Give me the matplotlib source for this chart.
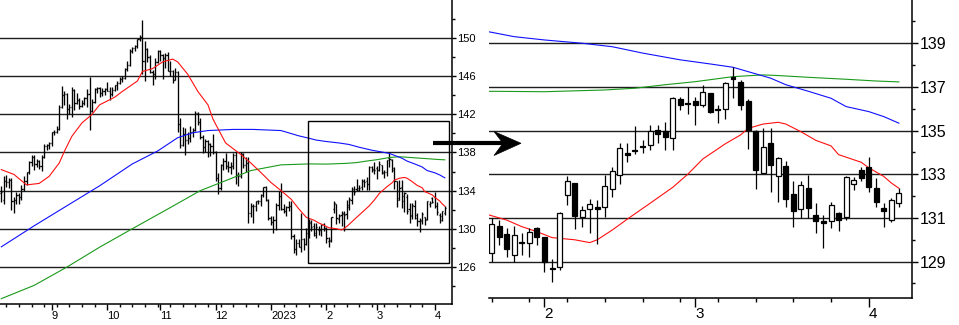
import numpy as np
import pandas as pd
import matplotlib
matplotlib.use('Agg')
import matplotlib.pyplot as plt
from matplotlib.collections import LineCollection
from matplotlib.patches import Rectangle, Polygon
from matplotlib.lines import Line2D

plt.rcParams['font.family'] = ['Liberation Sans', 'DejaVu Sans']

# trading days shown (weekdays), Aug 4 2022 .. Apr 7 2023
dates = pd.bdate_range('2022-08-04', '2023-04-07')

opens = [133.8, 133.0, 135.0, 134.9, 135.1, 132.9, 133.0, 133.5, 133.3, 134.2,
         135.0, 135.9, 137.0, 137.5, 136.8, 137.1, 136.6, 137.5, 138.7, 138.8,
         139.0, 140.2, 140.2, 140.5, 142.8, 144.0, 144.1, 142.6, 142.8, 144.6,
         143.2, 143.5, 142.9, 143.2, 143.7, 144.1, 142.4, 143.3, 144.7, 144.8,
         144.2, 144.4, 144.7, 144.5, 144.1, 144.6, 145.1, 145.3, 145.7, 145.8,
         146.8, 147.2, 148.7, 149.0, 149.2, 149.9, 150.1, 147.6, 148.9, 148.0,
         146.4, 146.2, 147.5, 148.7, 148.2, 147.9, 148.2, 146.6, 146.6, 145.6,
         146.4, 141.0, 138.8, 139.9, 139.3, 139.5, 140.2, 140.4, 142.1, 141.2,
         139.6, 138.6, 139.2, 138.9, 138.7, 138.1, 135.3, 134.3, 136.7, 137.1,
         136.6, 136.5, 136.6, 137.7, 135.6, 135.5, 137.8, 136.7, 136.9, 131.7,
         132.4, 132.4, 132.9, 132.9, 133.5, 134.4, 133.0, 131.1, 130.7, 130.9,
         132.5, 133.4, 132.1, 131.9, 132.3, 132.4, 129.2, 127.9, 128.5, 128.1,
         128.9, 128.4,
         129.41, 130.65, 130.27, 129.31, 129.9, 129.87, 130.53, 130.11, 128.72, 128.77,
         132.05, 132.62, 131.03, 131.4, 131.52, 131.52, 132.31, 132.97, 133.99, 134.12,
         134.3, 134.34, 135.03, 135.0, 134.65, 136.43, 136.28, 136.37, 136.17, 136.71,
         135.99, 135.98, 137.44, 137.24, 136.37, 134.98, 133.05, 134.42, 132.92, 133.38,
         132.1, 131.41, 132.39, 131.14, 130.86, 130.88, 131.21, 131.03, 132.56, 133.2,
         133.35, 132.36, 131.47, 130.91, 131.67]

highs = [134.5, 135.5, 135.6, 135.3, 135.3, 133.3, 133.9, 133.8, 134.6, 135.5,
         136.0, 137.1, 137.7, 137.7, 137.3, 137.2, 137.7, 138.9, 138.9, 139.1,
         140.2, 140.4, 140.8, 143.0, 145.0, 144.5, 144.2, 143.1, 144.9, 144.7,
         144.2, 143.7, 143.5, 143.8, 144.7, 145.9, 143.6, 144.8, 144.9, 144.9,
         144.8, 144.8, 145.4, 144.9, 144.9, 145.1, 145.5, 145.9, 146.0, 146.9,
         147.6, 148.9, 149.1, 149.3, 149.9, 150.3, 151.9, 149.7, 149.0, 148.2,
         146.7, 147.9, 148.8, 148.8, 148.3, 148.4, 148.5, 147.6, 146.7, 146.9,
         146.6, 141.6, 140.7, 140.6, 140.2, 140.8, 140.6, 142.3, 142.2, 141.6,
         139.8, 139.4, 139.3, 139.0, 139.9, 138.2, 135.8, 136.8, 137.4, 137.9,
         137.1, 137.0, 137.9, 138.1, 135.9, 138.0, 137.9, 137.5, 137.5, 132.7,
         132.6, 132.9, 133.0, 133.6, 134.4, 134.5, 133.1, 131.3, 131.3, 132.7,
         134.0, 134.8, 132.6, 132.4, 132.9, 132.9, 129.4, 128.9, 128.9, 131.6,
         129.0, 130.1,
         130.99, 130.91, 130.56, 130.65, 130.3, 130.53, 130.6, 130.14, 129.1, 131.25,
         132.92, 132.62, 131.56, 131.85, 131.82, 132.97, 133.35, 134.42, 134.45, 135.2,
         134.57, 135.26, 135.26, 135.41, 136.56, 136.56, 136.98, 136.56, 137.09, 136.71,
         136.17, 137.24, 137.93, 137.32, 136.43, 135.03, 135.11, 135.11, 133.81, 133.63,
         132.67, 132.67, 132.97, 131.67, 131.14, 131.75, 131.25, 132.92, 132.86, 133.35,
         133.81, 132.82, 131.67, 131.9, 132.36]

lows = [132.8, 132.6, 134.4, 134.3, 132.0, 131.7, 132.6, 132.6, 133.0, 134.0,
        134.6, 135.7, 136.6, 136.2, 136.5, 136.3, 136.1, 137.4, 138.3, 138.4,
        138.7, 139.8, 140.0, 140.4, 142.7, 143.0, 141.5, 142.0, 141.7, 142.5,
        143.1, 142.6, 142.8, 143.0, 142.8, 140.4, 142.2, 143.2, 144.2, 143.8,
        143.9, 144.0, 144.5, 143.5, 143.9, 144.4, 144.6, 145.2, 145.4, 145.7,
        146.5, 147.1, 148.4, 148.6, 149.0, 149.7, 146.2, 145.5, 147.5, 146.3,
        145.1, 145.7, 147.4, 147.6, 145.7, 146.9, 146.5, 146.0, 145.3, 145.6,
        140.2, 138.5, 138.7, 137.7, 138.9, 139.1, 139.6, 140.3, 140.9, 139.4,
        137.9, 138.0, 137.5, 137.6, 137.8, 135.0, 133.6, 134.1, 136.2, 136.3,
        136.0, 135.7, 136.3, 134.7, 134.5, 135.3, 136.4, 136.0, 130.6, 131.2,
        130.6, 131.9, 132.6, 132.4, 133.3, 132.9, 130.9, 130.4, 129.5, 129.9,
        132.0, 132.0, 131.6, 131.3, 131.9, 128.9, 127.5, 127.2, 128.1, 127.6,
        127.8, 128.3,
        129.0, 129.76, 129.23, 129.0, 129.31, 129.2, 129.76, 128.54, 128.08, 128.6,
        131.6, 130.5, 130.6, 130.3, 129.81, 131.06, 131.98, 132.56, 133.55, 133.95,
        133.96, 134.11, 134.42, 134.11, 134.11, 135.95, 135.76, 135.26, 136.07, 135.79,
        135.36, 135.52, 136.48, 135.95, 134.15, 132.31, 133.05, 132.21, 131.75, 131.52,
        130.57, 130.99, 130.99, 130.3, 129.61, 130.53, 130.42, 130.91, 132.28, 132.7,
        132.21, 131.49, 130.6, 130.83, 131.49]

closes = [133.9, 135.0, 134.9, 135.1, 132.9, 133.0, 133.5, 133.3, 134.2, 135.0,
          135.9, 137.0, 137.5, 136.8, 137.1, 136.6, 137.5, 138.7, 138.8, 139.0,
          140.2, 140.2, 140.5, 142.8, 144.0, 144.1, 142.6, 142.8, 144.6, 143.2,
          143.5, 142.9, 143.2, 143.7, 144.1, 142.4, 143.3, 144.7, 144.8, 144.2,
          144.4, 144.7, 144.5, 144.1, 144.6, 145.1, 145.3, 145.7, 145.8, 146.8,
          147.2, 148.7, 149.0, 149.2, 149.9, 150.1, 147.6, 148.9, 148.0, 146.4,
          146.2, 147.5, 148.7, 148.2, 147.9, 148.2, 146.6, 146.6, 145.6, 146.4,
          141.0, 138.8, 139.9, 139.3, 139.5, 140.2, 140.4, 142.1, 141.2, 139.6,
          138.6, 139.2, 138.9, 138.7, 138.1, 135.3, 134.3, 136.7, 137.1, 136.6,
          136.5, 136.6, 137.7, 135.6, 135.5, 137.8, 136.7, 136.9, 131.7, 132.4,
          132.4, 132.9, 132.9, 133.5, 134.4, 133.0, 131.1, 130.7, 130.9, 132.5,
          133.4, 132.1, 131.9, 132.3, 132.4, 129.2, 127.9, 128.5, 128.1, 128.9,
          128.4, 129.6,
          130.71, 130.14, 129.57, 130.22, 129.86, 130.37, 130.11, 129.0, 128.68, 131.21,
          132.67, 131.09, 131.37, 131.62, 131.41, 132.47, 133.15, 134.19, 133.9, 134.08,
          134.25, 135.0, 134.85, 134.7, 136.48, 136.17, 136.2, 136.17, 136.78, 135.87,
          135.92, 137.17, 137.35, 136.17, 135.03, 133.2, 134.27, 133.43, 133.73, 131.86,
          131.34, 132.51, 131.44, 130.86, 130.76, 131.57, 130.91, 132.86, 132.74, 132.82,
          132.4, 131.72, 131.34, 131.83, 132.16]

# moving averages, read at bar numbers
red_idx = [0, 5, 10, 15, 19, 23, 25, 28, 32, 36, 39, 45, 48, 54, 56, 60, 64, 68, 70, 74,
           78, 82, 84, 87, 89, 95, 99, 103, 107, 111, 115, 118, 121, 124, 126, 128, 130,
           133, 135, 136, 138, 140, 143, 146, 148, 150, 153, 155, 156, 158, 160, 161, 163,
           165, 167, 168, 171, 172, 174, 175, 176]
red_val = [136.2, 135.7, 134.6, 134.75, 135.5, 136.9, 138.1, 139.7, 141.1, 142.0, 143.0,
           143.8, 144.4, 145.5, 146.5, 146.8, 147.5, 147.8, 147.5, 146.2, 144.4, 143.0,
           141.5, 140.0, 139.0, 137.8, 136.9, 135.9, 134.85, 134.0, 133.1, 132.1, 131.2,
           130.9, 130.6, 130.37, 130.1, 130.0, 129.87, 130.0, 130.45, 130.95, 131.67,
           132.4, 133.0, 133.7, 134.4, 134.8, 135.1, 135.3, 135.38, 135.3, 134.95,
           134.55, 134.3, 133.9, 133.55, 133.3, 132.9, 132.6, 132.36]
blue_idx = [0, 13, 26, 39, 52, 62, 70, 76, 82, 92, 100, 111, 118, 122, 125, 129, 134, 138,
            142, 147, 151, 154, 156, 159, 161, 164, 167, 169, 172, 174, 176]
blue_val = [128.1, 130.3, 132.4, 134.5, 136.8, 138.15, 139.55, 140.07, 140.3, 140.42,
            140.42, 140.3, 139.75, 139.5, 139.3, 139.15, 139.0, 138.84, 138.55, 138.24,
            138.05, 137.9, 137.7, 137.4, 137.1, 136.8, 136.48, 136.1, 135.87, 135.64, 135.34]
green_idx = [0, 13, 26, 39, 52, 66, 79, 91, 99, 111, 122, 129, 137, 141, 145, 149, 154,
             158, 160, 164, 169, 173, 176]
green_val = [122.66, 124.05, 125.97, 128.06, 130.0, 132.06, 134.0, 135.25, 136.1, 136.7,
             136.8, 136.78, 136.86, 136.94, 137.1, 137.24, 137.47, 137.55, 137.52, 137.44,
             137.35, 137.27, 137.23]

o = np.array(opens); h = np.array(highs); l = np.array(lows); c = np.array(closes)
x = np.arange(len(dates))

W, H = 959, 325
fig = plt.figure(figsize=(W / 100, H / 100), dpi=100)
ax1 = fig.add_axes([0, 1 - 304 / H, 452 / W, 304 / H])
ax2 = fig.add_axes([489 / W, 1 - 298.3 / H, (911.7 - 489) / W, 298.3 / H])

# month ticks (first trading day) and weekly ticks (Mondays)
month_pos = [i for i in range(1, len(dates)) if dates[i].month != dates[i - 1].month]
month_lab = [str(dates[i].year) if dates[i].month == 1 else str(dates[i].month) for i in month_pos]
week_pos = [i for i in range(len(dates)) if dates[i].weekday() == 0 and i not in month_pos]

for ax in (ax1, ax2):
    for s in ('top', 'left'):
        ax.spines[s].set_visible(False)
    for s in ('right', 'bottom'):
        ax.spines[s].set_linewidth(1.1)
        ax.spines[s].set_color('black')
    ax.yaxis.tick_right()
    ax.set_xticks(month_pos)
    ax.set_xticklabels(month_lab)
    ax.set_xticks(week_pos, minor=True)
    for t in ax.get_xticklabels():
        t.set_horizontalalignment('left')
    ax.grid(axis='y', which='major', color='#1e1e1e', lw=1.0, zorder=0)
    ax.set_axisbelow(True)

# ---- left: OHLC bars
segs = []
for i in range(len(x)):
    segs.append([(x[i], l[i]), (x[i], h[i])])
    segs.append([(x[i] - 0.45, o[i]), (x[i], o[i])])
    segs.append([(x[i], c[i]), (x[i] + 0.45, c[i])])
ax1.add_collection(LineCollection(segs, colors='black', linewidths=0.95, zorder=3))
ax1.plot(green_idx, green_val, color='#1a9a1a', lw=0.8, zorder=4)
ax1.plot(blue_idx, blue_val, color='#1010ff', lw=0.8, zorder=4)
ax1.plot(red_idx, red_val, color='#ff1010', lw=0.8, zorder=4)
ax1.add_patch(Rectangle((121.7, 126.4), 177.8 - 121.7, 141.3 - 126.4, fill=False,
                        ec='black', lw=1.0, zorder=5))
ax1.set_xlim(-0.52, 178.85)
ax1.set_ylim(122.1, 154.0)
ax1.set_yticks(np.arange(126, 151, 4))
ax1.set_yticks(np.arange(124, 153, 4), minor=True)
ax1.tick_params(axis='y', which='major', length=3, width=1, pad=1, labelsize=8)
ax1.tick_params(axis='y', which='minor', length=2, width=1)
ax1.tick_params(axis='x', which='major', length=4.5, width=1, pad=0.5, labelsize=8)
ax1.tick_params(axis='x', which='minor', length=2.2, width=1)

# ---- right: candles
sel = x >= 121
ax2.vlines(x[sel], l[sel], h[sel], color='black', lw=0.9, zorder=5)
for i in x[sel]:
    up = c[i] >= o[i]
    bottom = min(o[i], c[i])
    height = max(abs(c[i] - o[i]), 0.05)
    ax2.add_patch(Rectangle((i - 0.33, bottom), 0.66, height,
                            facecolor='white' if up else 'black',
                            edgecolor='black', lw=0.9, zorder=6))
ax2.plot(green_idx, green_val, color='#1a9a1a', lw=0.8, zorder=4)
ax2.plot(blue_idx, blue_val, color='#1010ff', lw=0.8, zorder=4)
ax2.plot(red_idx, red_val, color='#ff1010', lw=0.8, zorder=4)
ax2.set_xlim(121.64, 177.7)
ax2.set_ylim(127.32, 140.98)
ax2.set_yticks(np.arange(129, 140, 2))
ax2.set_yticks(np.arange(128, 141, 2), minor=True)
ax2.tick_params(axis='y', which='major', length=4.5, width=1, pad=1, labelsize=11.5)
ax2.tick_params(axis='y', which='minor', length=2.2, width=1)
ax2.tick_params(axis='x', which='major', length=6.5, width=1, pad=0, labelsize=11)
ax2.tick_params(axis='x', which='minor', length=3, width=1)

# ---- arrow between the panels (figure pixels)
def fp(px, py):
    return (px / W, 1 - py / H)

fig.add_artist(Line2D(*zip(fp(433, 143.3), fp(506, 143.3)), transform=fig.transFigure,
                      color='black', lw=3, zorder=10, solid_capstyle='butt'))
fig.add_artist(Polygon([fp(521, 143.3), fp(494, 131.5), fp(503, 143.3), fp(494, 155.5)],
                       closed=True, transform=fig.transFigure, fc='black', ec='black',
                       lw=0.5, zorder=10))

fig.savefig('out.png', dpi=100)
